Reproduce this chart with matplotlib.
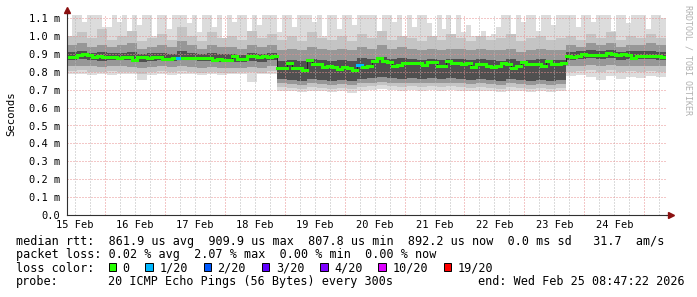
import numpy as np
import pandas as pd
import matplotlib
matplotlib.use('Agg')
import matplotlib.pyplot as plt
import matplotlib.dates as mdates
from matplotlib.patches import Rectangle
from matplotlib.ticker import MultipleLocator, FuncFormatter, NullFormatter

W, H = 697, 297
start = pd.Timestamp('2026-02-15 08:47:22')

# median rtt (ms), one value per 2 hours
median = [0.885, 0.885, 0.895, 0.9, 0.893, 0.885, 0.887, 0.884, 0.88, 0.882,
          0.879, 0.881, 0.88, 0.865, 0.88, 0.881, 0.879, 0.882, 0.88, 0.874,
          0.872, 0.876, 0.878, 0.878, 0.876, 0.878, 0.877, 0.876, 0.878, 0.868,
          0.87, 0.866, 0.868, 0.89, 0.872, 0.87, 0.886, 0.887, 0.885, 0.886,
          0.884, 0.886,
          0.823, 0.822, 0.85, 0.82, 0.821, 0.81, 0.866, 0.844, 0.842, 0.829,
          0.83, 0.828, 0.816, 0.826, 0.824, 0.81, 0.836, 0.829, 0.83, 0.862,
          0.875, 0.858, 0.856, 0.834, 0.836, 0.848, 0.849, 0.847, 0.848, 0.838,
          0.853, 0.852, 0.832, 0.834, 0.86, 0.848, 0.85, 0.846, 0.848, 0.826,
          0.845, 0.843, 0.83, 0.829, 0.831, 0.848, 0.846, 0.82, 0.83, 0.855,
          0.845, 0.844, 0.846, 0.83, 0.86, 0.843, 0.845, 0.85,
          0.886, 0.884, 0.888, 0.9, 0.894, 0.895, 0.893, 0.894, 0.903, 0.902,
          0.896, 0.897, 0.895, 0.878, 0.89, 0.889, 0.891, 0.89, 0.888, 0.885]
loss_steps = [22, 58]   # 2h steps with 1/20 loss

# highest ping (ms), per 2 hours
top = [0.99, 1.12, 1.12, 1.08, 1.12, 1.12, 1.12, 1.05, 1.05, 1.12,
       1.08, 1.12, 1.03, 1.12, 1.06, 1.12, 1.12, 1.0, 1.12, 1.12,
       1.04, 1.12, 1.12, 1.12, 1.07, 1.12, 1.02, 1.12, 1.12, 1.05,
       1.12, 0.99, 1.12, 1.08, 1.12, 1.12, 1.03, 1.12, 1.06, 1.12,
       1.12, 1.12,
       1.02, 1.12, 1.12, 1.05, 1.12, 1.12, 1.12, 1.08, 1.12, 1.0,
       1.12, 1.12, 1.04, 1.12, 1.12, 1.06, 1.12, 1.12, 1.12, 1.12,
       1.03, 1.12, 1.12, 1.08, 1.12, 0.99, 1.12, 1.05, 1.12, 1.12,
       1.07, 1.0, 1.12, 1.04, 1.12, 0.98, 1.12, 1.02, 1.06, 1.0,
       0.98, 1.03, 1.0, 1.01, 1.05, 1.12, 1.12, 0.99, 1.12, 1.08,
       1.12, 1.12, 1.03, 1.12, 1.12, 1.06, 1.12, 1.12,
       1.12, 1.12, 1.05, 1.12, 1.12, 1.08, 1.12, 1.12, 1.12, 1.03,
       1.12, 1.12, 1.07, 1.12, 1.12, 1.12, 1.04, 1.12, 1.12, 1.1]

# smoke bands (ms), per 4 hours
up2 = [1.00, 1.02, 0.99, 1.04, 0.98, 1.00, 1.03, 0.97, 0.99, 1.01, 0.98, 1.05, 1.00, 0.97,
       1.02, 0.99, 1.00, 0.98, 1.03, 0.99, 1.01,
       0.98, 1.00, 0.97, 1.02, 0.99, 0.98, 1.00, 0.97, 1.01, 0.99, 1.03, 0.98, 1.00, 0.99,
       0.97, 1.00, 0.98, 1.01, 0.99, 0.97, 1.00, 0.98, 0.99, 1.01, 0.97, 0.99, 1.00, 0.98, 0.99,
       1.00, 0.98, 1.01, 0.99, 1.02, 0.98, 1.00, 0.99, 1.01, 0.99]
up1 = [0.95, 0.96, 0.94, 0.95, 0.94, 0.95, 0.96, 0.93, 0.94, 0.95, 0.94, 0.97, 0.95, 0.93,
       0.95, 0.94, 0.94, 0.93, 0.95, 0.94, 0.95,
       0.92, 0.93, 0.92, 0.94, 0.93, 0.92, 0.93, 0.92, 0.94, 0.93, 0.95, 0.93, 0.94, 0.93,
       0.92, 0.93, 0.92, 0.93, 0.93, 0.92, 0.93, 0.92, 0.92, 0.93, 0.91, 0.92, 0.93, 0.92, 0.92,
       0.95, 0.94, 0.96, 0.95, 0.96, 0.94, 0.95, 0.95, 0.96, 0.95]
up0 = [0.91, 0.915, 0.905, 0.91, 0.905, 0.905, 0.91, 0.9, 0.905, 0.905, 0.9, 0.915, 0.905, 0.9,
       0.905, 0.9, 0.9, 0.895, 0.905, 0.9, 0.905,
       0.86, 0.865, 0.86, 0.87, 0.865, 0.86, 0.865, 0.86, 0.875, 0.87, 0.885, 0.87, 0.875, 0.87,
       0.865, 0.87, 0.865, 0.87, 0.87, 0.865, 0.87, 0.865, 0.86, 0.87, 0.86, 0.865, 0.87, 0.865, 0.865,
       0.91, 0.915, 0.92, 0.915, 0.92, 0.91, 0.915, 0.915, 0.915, 0.91]
lo0 = [0.865, 0.87, 0.865, 0.86, 0.865, 0.865, 0.865, 0.855, 0.86, 0.865, 0.86, 0.865, 0.865, 0.86,
       0.86, 0.855, 0.855, 0.855, 0.86, 0.855, 0.865,
       0.76, 0.755, 0.75, 0.76, 0.755, 0.75, 0.755, 0.75, 0.76, 0.765, 0.77, 0.765, 0.76, 0.765,
       0.76, 0.765, 0.76, 0.765, 0.76, 0.755, 0.76, 0.755, 0.75, 0.76, 0.755, 0.75, 0.755, 0.75, 0.755,
       0.865, 0.87, 0.875, 0.87, 0.875, 0.865, 0.87, 0.87, 0.87, 0.865]
lo1 = [0.83, 0.835, 0.83, 0.825, 0.83, 0.83, 0.825, 0.82, 0.825, 0.83, 0.825, 0.83, 0.825, 0.82,
       0.825, 0.82, 0.82, 0.82, 0.825, 0.82, 0.83,
       0.735, 0.73, 0.725, 0.735, 0.73, 0.725, 0.73, 0.725, 0.735, 0.74, 0.745, 0.74, 0.735, 0.74,
       0.735, 0.74, 0.735, 0.74, 0.735, 0.73, 0.735, 0.73, 0.725, 0.735, 0.73, 0.725, 0.73, 0.725, 0.73,
       0.83, 0.835, 0.84, 0.835, 0.84, 0.83, 0.835, 0.835, 0.835, 0.83]
lo2 = [0.805, 0.81, 0.80, 0.80, 0.805, 0.80, 0.80, 0.79, 0.80, 0.805, 0.80, 0.805, 0.80, 0.795,
       0.80, 0.795, 0.795, 0.80, 0.80, 0.795, 0.805,
       0.715, 0.71, 0.705, 0.715, 0.71, 0.705, 0.71, 0.705, 0.715, 0.72, 0.725, 0.72, 0.715, 0.72,
       0.715, 0.72, 0.715, 0.72, 0.715, 0.71, 0.715, 0.71, 0.705, 0.715, 0.71, 0.705, 0.71, 0.705, 0.71,
       0.80, 0.805, 0.81, 0.80, 0.81, 0.80, 0.805, 0.80, 0.805, 0.80]
bot = [0.79, 0.785, 0.78, 0.785, 0.78, 0.79, 0.785, 0.755, 0.78, 0.785, 0.78, 0.785, 0.785, 0.78,
       0.79, 0.78, 0.785, 0.79, 0.745, 0.785, 0.79,
       0.695, 0.69, 0.685, 0.695, 0.69, 0.685, 0.69, 0.68, 0.695, 0.70, 0.705, 0.70, 0.695, 0.70,
       0.695, 0.70, 0.695, 0.70, 0.695, 0.69, 0.695, 0.69, 0.685, 0.695, 0.69, 0.685, 0.69, 0.685, 0.69,
       0.775, 0.78, 0.77, 0.755, 0.775, 0.76, 0.77, 0.765, 0.775, 0.77]

# legend texts
rtt_avg, rtt_max, rtt_min, rtt_now, rtt_sd, am_s = 861.9, 909.9, 807.8, 892.2, 0.0, 31.7
loss_avg, loss_max, loss_min, loss_now = 0.02, 2.07, 0.00, 0.00
loss_labels = ['0', '1/20', '2/20', '3/20', '4/20', '10/20', '19/20']
loss_colors = ['#26ff00', '#00b8ff', '#0059ff', '#5e00ff', '#7e00ff', '#dd00ff', '#ff0000']
probe_text = '20 ICMP Echo Pings (56 Bytes) every 300s'
end_text = 'end: Wed Feb 25 08:47:22 2026'

plt.rcParams['font.family'] = ['DejaVu Sans Mono']

e2 = mdates.date2num(pd.date_range(start, periods=len(median) + 1, freq='2h').to_pydatetime())
e4 = mdates.date2num(pd.date_range(start, periods=len(up0) + 1, freq='4h').to_pydatetime())

fig = plt.figure(figsize=(W / 100, H / 100), dpi=100)
ax = fig.add_axes([67 / W, 82 / H, 599.2 / W, 201 / H])

c_light, c_mid1, c_mid2, c_dark = '#dcdcdc', '#c4c4c4', '#979797', '#505050'
ax.stairs(top, e2, baseline=median, fill=True, color=c_light, lw=0, zorder=1)
ax.stairs(lo2, e4, baseline=bot, fill=True, color=c_light, lw=0, zorder=1)
ax.stairs(up2, e4, baseline=lo2, fill=True, color=c_mid1, lw=0, zorder=1.1)
ax.stairs(up1, e4, baseline=lo1, fill=True, color=c_mid2, lw=0, zorder=1.2)
ax.stairs(up0, e4, baseline=lo0, fill=True, color=c_dark, lw=0, zorder=1.3)

# median line
ax.stairs(median, e2, baseline=None, color='#202020', lw=0.7, zorder=3)
seg_cols = [loss_colors[1] if i in loss_steps else loss_colors[0] for i in range(len(median))]
ax.hlines(median, e2[:-1], e2[1:], colors=seg_cols, lw=2.2, zorder=3.5, capstyle='projecting')

ax.set_xlim(e2[0], e2[-1])
ax.set_ylim(0, 201 / 179)

ax.xaxis.set_major_locator(mdates.HourLocator(byhour=[0]))
ax.xaxis.set_minor_locator(mdates.HourLocator(byhour=[6, 12, 18]))
ax.xaxis.set_major_formatter(NullFormatter())
def day_label(v, pos):
    d = mdates.num2date(v)
    return d.strftime('%d %b') if d.hour == 12 else ''
ax.xaxis.set_minor_formatter(FuncFormatter(day_label))
ax.yaxis.set_major_locator(MultipleLocator(0.1))
ax.yaxis.set_major_formatter(FuncFormatter(lambda v, p: '0.0' if abs(v) < 1e-9 else '%.1f m' % v))

ax.set_axisbelow(False)
ax.grid(which='major', axis='both', color='#e89090', ls=(0, (1, 2)), lw=0.72)
ax.grid(which='minor', axis='x', color='#b8b8b8', ls=(0, (1, 2)), lw=0.72)
ax.tick_params(axis='both', which='both', length=0, labelsize=7.5, colors='black')
ax.tick_params(axis='x', which='both', pad=3.5)
ax.tick_params(axis='y', pad=5)

for s in ['top', 'right']:
    ax.spines[s].set_visible(False)
for s in ['left', 'bottom']:
    ax.spines[s].set_color('#303030')
    ax.spines[s].set_linewidth(0.8)
    ax.spines[s].set_zorder(4)

# axis arrows
ax.plot([1, 1 + 6 / 599], [0, 0], color='#303030', lw=0.8, transform=ax.transAxes, clip_on=False)
ax.plot([0, 0], [1, 1 + 3 / 201], color='#303030', lw=0.8, transform=ax.transAxes, clip_on=False)
ax.plot([1 + 4.5 / 599], [0], marker='>', ms=4.5, color='#8b1010', mec='#8b1010',
        transform=ax.transAxes, clip_on=False)
ax.plot([0], [1 + 4 / 201], marker='^', ms=4.5, color='#8b1010', mec='#8b1010',
        transform=ax.transAxes, clip_on=False)

def fx(x):
    return x / W

def fy(y):
    return 1 - y / H

fig.text(fx(11), fy(114), 'Seconds', rotation=90, ha='center', va='center', fontsize=7.7)
fig.text(fx(688), fy(5), 'RRDTOOL / TOBI OETIKER', rotation=270, ha='center', va='top',
         fontsize=6, color='#b0b0b0')

fs = 8.5
row1 = ('median rtt:  %.1f us avg  %.1f us max  %.1f us min  %.1f us now  %.1f ms sd   %.1f  am/s'
        % (rtt_avg, rtt_max, rtt_min, rtt_now, rtt_sd, am_s))
row2 = ('packet loss: %.2f %% avg  %.2f %% max  %.2f %% min  %.2f %% now'
        % (loss_avg, loss_max, loss_min, loss_now))
fig.text(fx(16), fy(244.5), row1, fontsize=fs, va='baseline')
fig.text(fx(16), fy(258.1), row2, fontsize=fs, va='baseline')
fig.text(fx(16), fy(271.7), 'loss color:', fontsize=fs, va='baseline')
sq_x = [108.5, 145.4, 203.6, 261.8, 320, 378.2, 443.5]
for x0, lab, col in zip(sq_x, loss_labels, loss_colors):
    fig.add_artist(Rectangle((fx(x0), fy(270.5)), 7.5 / W, 7.5 / H, transform=fig.transFigure,
                             fc=col, ec='black', lw=0.7))
    fig.text(fx(x0 + 14), fy(271.7), lab, fontsize=fs, va='baseline')
fig.text(fx(16), fy(285.3), 'probe:', fontsize=fs, va='baseline')
fig.text(fx(108.3), fy(285.3), probe_text, fontsize=fs, va='baseline')
fig.text(fx(478), fy(285.3), end_text, fontsize=fs, va='baseline')

fig.savefig('out.png', dpi=100)
